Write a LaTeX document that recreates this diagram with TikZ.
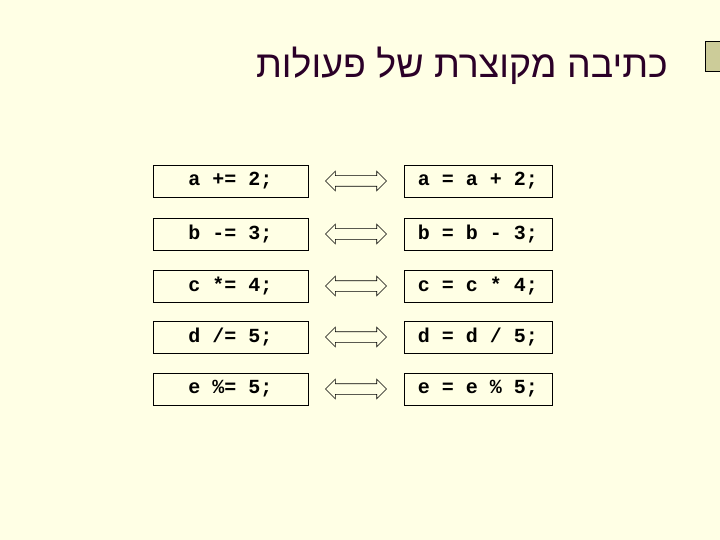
\documentclass[tikz,border=0pt]{standalone}
\usepackage{fontspec}
\setmainfont{Liberation Sans}
\setmonofont{Liberation Mono}
\newfontfamily\hebfont[Script=Hebrew]{Liberation Sans}
\TeXXeTstate=1
\usepackage{xcolor}
\definecolor{pageYellow}{HTML}{FFFFE5}
\definecolor{titleText}{HTML}{2B0028}
\definecolor{tabKhaki}{HTML}{CCCC99}
\usepackage{tikz}
\usetikzlibrary{
    shapes.arrows,
    positioning,
    calc
}
\tikzset{
    % code boxes, same look left and right
    codebox/.style={
        draw=black,
        line width=0.8pt,
        minimum height=32pt,
        inner sep=0pt,
        font=\ttfamily\bfseries\fontsize{20}{24}\selectfont,
    },
    shortbox/.style={codebox, minimum width=155pt},
    longbox/.style={codebox, minimum width=148pt},
    % hollow two-way arrow between the boxes
    twoway/.style={
        double arrow,
        draw=black,
        line width=0.6pt,
        fill=pageYellow,
        minimum height=61pt,
        inner xsep=0pt,
        inner ysep=5pt,
        double arrow head extend=4.5pt,
    },
}

\begin{document}
\begin{tikzpicture}[x=1pt, y=-1pt]
    \fill[pageYellow] (0,0) rectangle (720,540);
    \useasboundingbox (0,0) rectangle (720,540);

    % corner tab
    \draw[fill=tabKhaki, line width=1pt] (705,42) rectangle (724,72);

    % title
    \node (title) [anchor=base east, text=titleText, inner sep=0pt,
        font=\hebfont\fontsize{37.5}{44}\selectfont] at (668,78)
        {\beginR כתיבה מקוצרת של פעולות\endR};

    \node (lhs1) [shortbox] at (230.5,181) {a += 2;};
    \node (lhs2) [shortbox] at (230.5,234) {b -= 3;};
    \node (lhs3) [shortbox] at (230.5,286) {c *= 4;};
    \node (lhs4) [shortbox] at (230.5,337) {d /= 5;};
    \node (lhs5) [shortbox] at (230.5,389) {e \%= 5;};

    \node (rhs1) [longbox] at (478,181) {a = a + 2;};
    \node (rhs2) [longbox] at (478,234) {b = b - 3;};
    \node (rhs3) [longbox] at (478,286) {c = c * 4;};
    \node (rhs4) [longbox] at (478,337) {d = d / 5;};
    \node (rhs5) [longbox] at (478,389) {e = e \% 5;};

    \node (arr1) [twoway] at ($(lhs1.east)!0.5!(rhs1.west)$) {};
    \node (arr2) [twoway] at ($(lhs2.east)!0.5!(rhs2.west)$) {};
    \node (arr3) [twoway] at ($(lhs3.east)!0.5!(rhs3.west)$) {};
    \node (arr4) [twoway] at ($(lhs4.east)!0.5!(rhs4.west)$) {};
    \node (arr5) [twoway] at ($(lhs5.east)!0.5!(rhs5.west)$) {};
\end{tikzpicture}
\end{document}
